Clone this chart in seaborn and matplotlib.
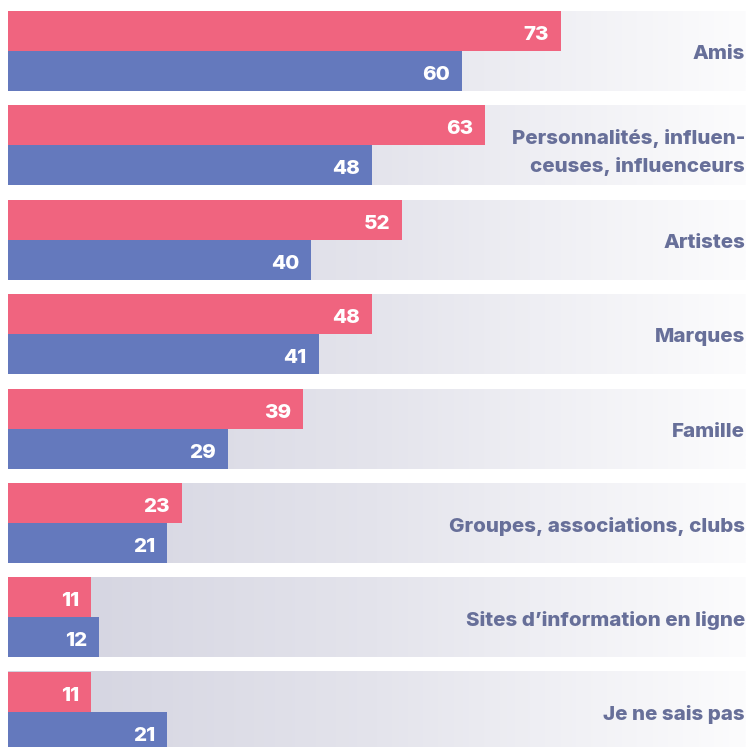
import numpy as np
import pandas as pd
import matplotlib
matplotlib.use("Agg")
import matplotlib.pyplot as plt
from matplotlib.colors import LinearSegmentedColormap
from matplotlib import font_manager as fm
import seaborn as sns

categories = ["Amis", "Personnalités, influen-\nceuses, influenceurs", "Artistes", "Marques",
              "Famille", "Groupes, associations, clubs", "Sites d\u2019information en ligne",
              "Je ne sais pas"]
series_names = ["Série 1", "Série 2"]
values_1 = [73, 63, 52, 48, 39, 23, 11, 11]
values_2 = [60, 48, 40, 41, 29, 21, 12, 21]

PINK = "#f0647f"
BLUE = "#6479bd"
LABEL = "#676f99"

df = pd.DataFrame({
    "categorie": categories * 2,
    "serie": [series_names[0]] * len(categories) + [series_names[1]] * len(categories),
    "valeur": values_1 + values_2,
})

sns.set_theme(style="white")
plt.rcParams["font.family"] = ["Inter", "DejaVu Sans"]


def font(fname, size, weight):
    for f in fm.fontManager.ttflist:
        if f.fname.endswith(fname):
            return fm.FontProperties(fname=f.fname, size=size)
    return fm.FontProperties(family="Inter", weight=weight, size=size)


lab_fp = font("Inter-ExtraBold.otf", 14.8, 800)
val_fp = font("Inter-ExtraBold.otf", 14.8, 800)

fig = plt.figure(figsize=(7.46, 7.47), dpi=100)
ax = fig.add_axes([8 / 746, 0, 738 / 746, 1])

XMAX = 738 / 7.575
WIDTH = 0.847

sns.barplot(data=df, x="valeur", y="categorie", hue="serie", order=categories,
            hue_order=series_names, palette=[PINK, BLUE], orient="h", dodge=True,
            width=WIDTH, saturation=1, legend=False, ax=ax, zorder=2, linewidth=0)

cmap = LinearSegmentedColormap.from_list("bg", ["#d2d2df", "#e4e4ec", "#fcfcfd"])
grad = np.linspace(0, 1, 256).reshape(1, -1)
for i in range(len(categories)):
    ax.imshow(grad, cmap=cmap, aspect="auto", zorder=0,
              extent=[0, XMAX, i + WIDTH / 2, i - WIDTH / 2], interpolation="bilinear")

for cont in ax.containers:
    for p in cont.patches:
        w = p.get_width()
        cy = p.get_y() + p.get_height() / 2
        ax.annotate(f"{w:.0f}", (w, cy), xytext=(-12, -2), textcoords="offset pixels",
                    ha="right", va="center_baseline", color="white",
                    fontproperties=val_fp, zorder=3)

for i, c in enumerate(categories):
    ax.annotate(c, (XMAX, i), xytext=(-1, -1), textcoords="offset pixels",
                ha="right", va="center_baseline", color=LABEL, fontproperties=lab_fp,
                linespacing=1.55, zorder=3, annotation_clip=False)

ax.set_xlim(0, XMAX)
ax.set_ylim((747 - 51) / 94.4, -51 / 94.4)
ax.axis("off")

fig.savefig("out.png", dpi=100, facecolor="white")
